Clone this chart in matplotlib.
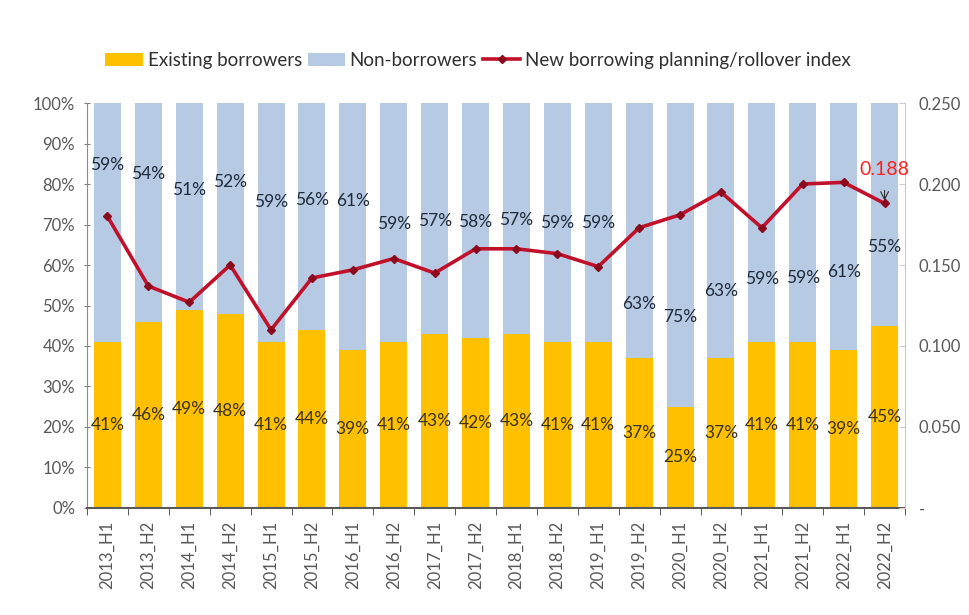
import matplotlib
matplotlib.use('Agg')
import matplotlib.pyplot as plt
import numpy as np
from matplotlib.patches import Patch
from matplotlib.lines import Line2D

plt.rcParams['font.family'] = ['Lato', 'DejaVu Sans']

periods = ['2013_H1', '2013_H2', '2014_H1', '2014_H2', '2015_H1', '2015_H2',
           '2016_H1', '2016_H2', '2017_H1', '2017_H2', '2018_H1', '2018_H2',
           '2019_H1', '2019_H2', '2020_H1', '2020_H2', '2021_H1', '2021_H2',
           '2022_H1', '2022_H2']
existing = [41, 46, 49, 48, 41, 44, 39, 41, 43, 42, 43, 41, 41, 37, 25, 37, 41, 41, 39, 45]
non_borrowers = [59, 54, 51, 52, 59, 56, 61, 59, 57, 58, 57, 59, 59, 63, 75, 63, 59, 59, 61, 55]
index = [0.180, 0.137, 0.127, 0.150, 0.110, 0.142, 0.147, 0.154, 0.145, 0.160,
         0.160, 0.157, 0.149, 0.173, 0.181, 0.195, 0.173, 0.200, 0.201, 0.188]

# hand-placed heights (in %) for the non-borrower labels, kept clear of the line
nb_label_y = [84.7, 82.5, 78.5, 80.5, 75.6, 76.0, 75.8, 70.1, 70.9, 70.6,
              71.1, 70.4, 70.4, 50.4, 47.2, 53.6, 56.5, 56.8, 58.3, 64.4]

YELLOW = '#FFC000'
BLUE = '#B7CAE3'
RED = '#C0102A'
GRAY = '#595959'

fig = plt.figure(figsize=(9.7, 6.15), dpi=100)
ax = fig.add_axes([0.0897, 0.174, 0.8433, 0.6585])
x = np.arange(len(periods))

ax.bar(x, existing, width=0.66, color=YELLOW, zorder=2)
ax.bar(x, non_borrowers, width=0.66, bottom=existing, color=BLUE, zorder=2)

for i in range(len(periods)):
    ax.text(x[i], existing[i] / 2, f'{existing[i]}%', ha='center', va='center',
            fontsize=12.5, color='#3a3220', zorder=5)
    ax.text(x[i], nb_label_y[i], f'{non_borrowers[i]}%', ha='center', va='center',
            fontsize=12.5, color='#1f2a3a', zorder=5)

ax.set_xlim(-0.5, len(periods) - 0.5)
ax.set_ylim(0, 100)
ax.set_yticks(np.arange(0, 101, 10))
ax.set_yticklabels([f'{v}%' for v in range(0, 101, 10)])
ax.set_xticks(x)
ax.set_xticklabels(periods, rotation=90)
ax.set_xticks(np.arange(-0.5, len(periods), 1), minor=True)
ax.tick_params(axis='x', which='major', length=0, pad=9, labelsize=12, labelcolor=GRAY)
ax.tick_params(axis='x', which='minor', length=5, direction='out', color='#404040')
ax.tick_params(axis='y', length=5, direction='inout', color='#7f7f7f', labelsize=12,
               labelcolor=GRAY, pad=6)

for s in ['top', 'right']:
    ax.spines[s].set_visible(False)
ax.spines['left'].set_color('#8c8c8c')
ax.spines['bottom'].set_color('#595959')
ax.spines['bottom'].set_linewidth(1.5)

ax2 = ax.twinx()
ax2.plot(x, index, color=RED, lw=2.6, marker='D', markersize=4.5,
         markerfacecolor='#8b0a1e', markeredgecolor='#8b0a1e', zorder=4)
ax2.set_ylim(0, 0.25)
ax2.set_yticks(np.arange(0, 0.251, 0.05))
ax2.set_yticklabels(['-'] + [f'{v:.3f}' for v in np.arange(0.05, 0.251, 0.05)])
ax2.tick_params(axis='y', length=4, direction='in', color='#d0d0d0', labelsize=12,
                labelcolor=GRAY, pad=10)
for s in ['top', 'left', 'bottom']:
    ax2.spines[s].set_visible(False)
ax2.spines['right'].set_color('#c8c8c8')

ax2.annotate(f'{index[-1]:.3f}', xy=(x[-1], index[-1]), xytext=(x[-1], index[-1] + 0.021),
             ha='center', va='center', fontsize=14, color='#ff2020',
             arrowprops=dict(arrowstyle='->', color='#303030', lw=0.8,
                             shrinkA=7, shrinkB=2))

handles = [Patch(facecolor=YELLOW, edgecolor='none'),
           Patch(facecolor=BLUE, edgecolor='none'),
           Line2D([], [], color=RED, lw=2.6, marker='D', markersize=4.5,
                  markerfacecolor='#8b0a1e', markeredgecolor='#8b0a1e')]
labels = ['Existing borrowers', 'Non-borrowers', 'New borrowing planning/rollover index']
fig.legend(handles, labels, loc='center', bbox_to_anchor=(0.493, 0.902), ncol=3,
           frameon=False, fontsize=13.5, handlelength=2.0, handletextpad=0.25,
           columnspacing=0.3, labelcolor='#303030')

fig.savefig('out.png', dpi=100, facecolor='white')
